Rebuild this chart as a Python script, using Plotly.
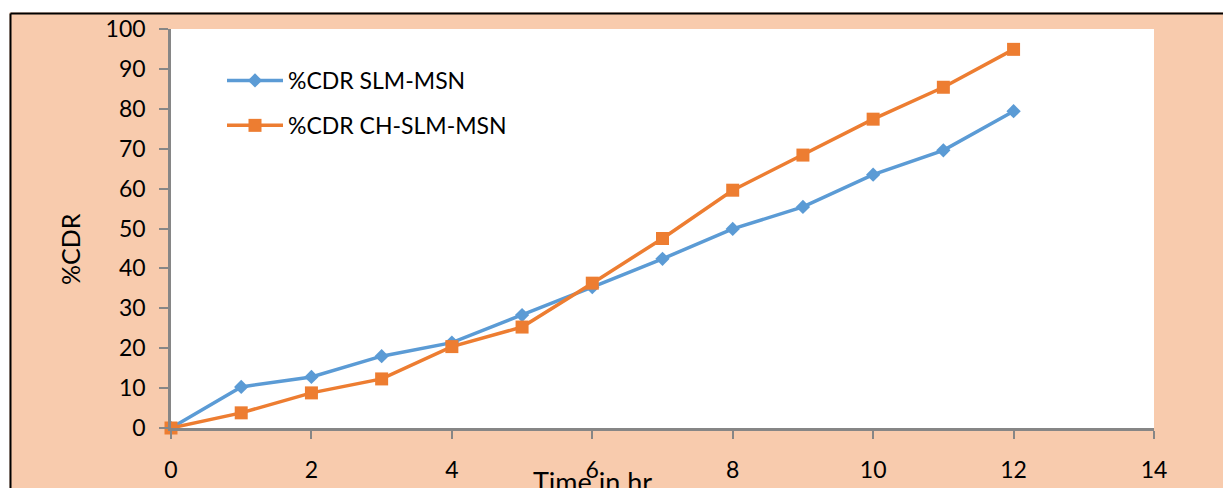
import plotly.graph_objects as go

time_hr = [0, 1, 2, 3, 4, 5, 6, 7, 8, 9, 10, 11, 12]
cdr_slm_msn = [0, 10.3, 12.8, 18.0, 21.4, 28.3, 35.3, 42.4, 49.9, 55.4, 63.5, 69.6, 79.4]
cdr_ch_slm_msn = [0, 3.8, 8.8, 12.3, 20.4, 25.3, 36.3, 47.5, 59.6, 68.4, 77.4, 85.4, 94.9]
x_ticks = [0, 2, 4, 6, 8, 10, 12, 14]
y_ticks = [0, 10, 20, 30, 40, 50, 60, 70, 80, 90, 100]

W, H = 1223, 488
L, R, T, B = 171, 1154, 29, 428
PW, PH = R - L, B - T

def px(xp):
    return (xp - L) / PW

def py(yp):
    return (B - yp) / PH

FONT = "Lato"
PEACH = "#F8CBAD"
GRAY = "#868686"

fig = go.Figure()
fig.add_trace(go.Scatter(
    x=time_hr, y=cdr_slm_msn, mode="lines+markers", name="%CDR SLM-MSN",
    line=dict(color="#5B9BD5", width=3.5),
    marker=dict(symbol="diamond", size=11, color="#5B9BD5"),
    cliponaxis=False, legendgroup="a"))
fig.add_trace(go.Scatter(
    x=time_hr, y=cdr_ch_slm_msn, mode="lines+markers", name="%CDR CH-SLM-MSN",
    line=dict(color="#ED7D31", width=3.5),
    marker=dict(symbol="square", size=13, color="#ED7D31"),
    cliponaxis=False, legendgroup="b"))

fig.update_layout(
    width=W, height=H, autosize=False,
    margin=dict(l=L, r=W - R, t=T, b=H - B, pad=0, autoexpand=False),
    paper_bgcolor=PEACH, plot_bgcolor="white",
    font=dict(family=FONT, size=23, color="black"),
    showlegend=True,
    legend=dict(x=px(222), y=py(59), xanchor="left", yanchor="top",
                bgcolor="rgba(0,0,0,0)", font=dict(size=23, family=FONT),
                tracegroupgap=12, itemwidth=56),
    xaxis=dict(range=[0, 14], tickvals=x_ticks, showgrid=False, zeroline=False,
               showline=True, linecolor=GRAY, linewidth=2.5, automargin=False,
               ticks="outside", ticklen=8, tickwidth=2, tickcolor=GRAY,
               ticklabelstandoff=12, tickfont=dict(size=23)),
    yaxis=dict(range=[0, 100], tickvals=y_ticks, showgrid=False, zeroline=False,
               showline=True, linecolor=GRAY, linewidth=2.5, automargin=False,
               ticks="outside", ticklen=9, tickwidth=2, tickcolor=GRAY,
               ticklabelstandoff=9, tickfont=dict(size=23)),
    annotations=[
        dict(text="%CDR", xref="paper", yref="paper", x=px(70), y=py(249),
             textangle=-90, showarrow=False, font=dict(size=25),
             xanchor="center", yanchor="middle"),
        dict(text="Time in hr", xref="paper", yref="paper", x=px(592), y=py(463),
             showarrow=False, font=dict(size=27), xanchor="center", yanchor="top"),
    ],
    shapes=[
        dict(type="rect", xref="paper", yref="paper", x0=px(-5), x1=px(W + 5),
             y0=py(12.5), y1=py(-5), fillcolor="white", line=dict(width=0), layer="below"),
        dict(type="rect", xref="paper", yref="paper", x0=px(-5), x1=px(9.5),
             y0=py(H + 5), y1=py(-5), fillcolor="white", line=dict(width=0), layer="below"),
        dict(type="line", xref="paper", yref="paper", x0=px(10.5), x1=px(W + 5),
             y0=py(13.5), y1=py(13.5), line=dict(color="black", width=2)),
        dict(type="line", xref="paper", yref="paper", x0=px(10.5), x1=px(10.5),
             y0=py(13.5), y1=py(H + 5), line=dict(color="black", width=2)),
    ],
)

fig.write_html("out.html")
